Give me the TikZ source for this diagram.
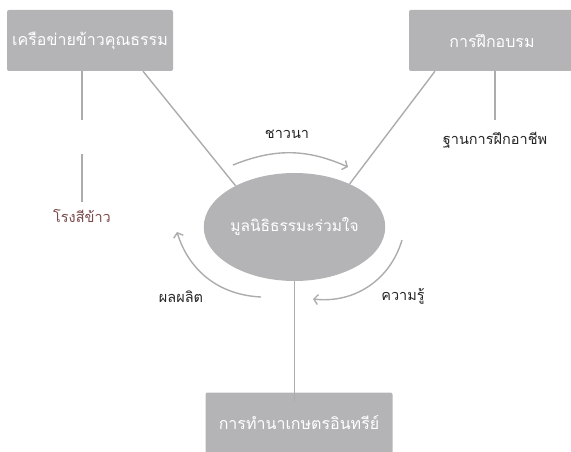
\documentclass[tikz,border=0pt]{standalone}
\usepackage{fontspec}
\newfontfamily\thaifont[Script=Thai]{Loma}
\usetikzlibrary{arrows.meta,shapes,positioning}
\definecolor{boxgray}{RGB}{180,180,183}
\definecolor{linegray}{RGB}{172,172,175}
\definecolor{millred}{RGB}{122,74,74}
\tikzstyle{block} = [rectangle, fill=boxgray, text=white, rounded corners=2pt,
    minimum width=166pt, minimum height=61pt, font=\thaifont\fontsize{16}{19}\selectfont]
\tikzstyle{hub} = [ellipse, fill=boxgray, text=white, inner sep=0pt,
    minimum width=171pt, minimum height=108pt, font=\thaifont\fontsize{15.5}{18}\selectfont]
\tikzstyle{link} = [draw=linegray, line width=1.4pt]
\tikzstyle{flow} = [draw=linegray, line width=1.4pt, -{Straight Barb[length=4pt,width=10pt]}]
\tikzstyle{tag} = [text=black!85, font=\thaifont\fontsize{14.5}{17}\selectfont]

\begin{document}
\begin{tikzpicture}[x=1pt,y=-1pt]
  \useasboundingbox (0,0) rectangle (571,452);

  \node[hub]   (fund)  at (294.5,227) {มูลนิธิธรรมะร่วมใจ};
  \node[block] (net)   at (90,40.5)   {เครือข่ายข้าวคุณธรรม};
  \node[block] (train) at (492,40.5)  {การฝึกอบรม};
  \node[block, minimum width=187pt] (farm) at (299,423) {การทำนาเกษตรอินทรีย์};

  \node[tag, text=millred] (mill)   at (82,216)  {โรงสีข้าว};
  \node[tag]               (base)   at (495,140) {ฐานการฝึกอาชีพ};
  \node[tag]               (farmer) at (287,134) {ชาวนา};
  \node[tag]               (know)   at (403,296) {ความรู้};
  \node[tag]               (crop)   at (181,297) {ผลผลิต};

  \coordinate (netend)   at (82,120);
  \coordinate (millend)  at (82,154);
  \coordinate (trainend) at (495,120);
  \coordinate (farmtop)  at ([yshift=-10pt]farm.north);

  % spokes
  \draw[link] (net.south -| netend) -- (netend);
  \draw[link] (millend) -- ([yshift=4pt]mill.north -| millend);
  \draw[link] (train.south -| trainend) -- (trainend);
  \draw[link] ([xshift=53pt]net.south) -- (fund.145);
  \draw[link] ([xshift=-57pt]train.south) -- (fund.38);
  \draw[link] (fund.south) -- (fund.south |- farmtop);

  % cycle
  \coordinate (t0) at (233,165);
  \coordinate (t1) at (348,167);
  \coordinate (r0) at (402,240);
  \coordinate (r1) at (313,299);
  \coordinate (l0) at (261,297);
  \coordinate (l1) at (177,232);
  \draw[flow] (t0) to[bend left=23] (t1);
  \draw[flow] (r0) to[bend left=40] (r1);
  \draw[flow] (l0) to[bend left=35] (l1);
\end{tikzpicture}
\end{document}
